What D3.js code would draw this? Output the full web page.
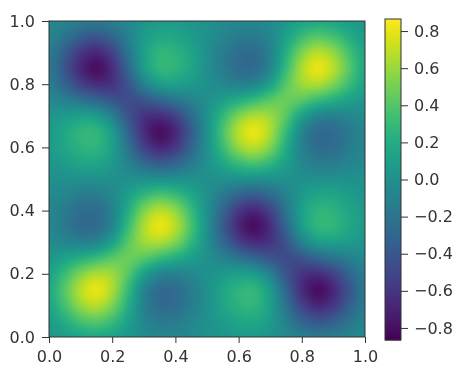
<!DOCTYPE html>
<html>
<head>
<meta charset="utf-8">
<script src="https://cdn.jsdelivr.net/npm/d3@7"></script>
<style>
  html, body { margin: 0; padding: 0; background: #fff; }
  svg { display: block; filter: blur(0.6px); }
  .tick text { font-family: "DejaVu Sans", sans-serif; font-size: 16px; fill: #333; }
  .tick line, .domain { stroke: #333; }
</style>
</head>
<body>
<svg id="chart" width="465" height="383"></svg>
<script>
// Tick labels
const xTicks = [0, 0.2, 0.4, 0.6, 0.8, 1.0];
const yTicks = [0, 0.2, 0.4, 0.6, 0.8, 1.0];
const barTicks = [-0.8, -0.6, -0.4, -0.2, 0, 0.2, 0.4, 0.6, 0.8];
const barRange = [-0.865, 0.865];

// Values, x and y every 0.05, first row is y = 0
const gridPos = [0, .05, .1, .15, .2, .25, .3, .35, .4, .45, .5, .55, .6, .65, .7, .75, .8, .85, .9, .95, 1];
const zGrid = [
  [.04, .09, .15, .17, .13, .05, -.03, -.07, -.07, -.04, 0, .04, .07, .07, .03, -.05, -.13, -.17, -.15, -.09, -.04],
  [.09, .21, .35, .41, .31, .12, -.07, -.16, -.15, -.08, 0, .08, .15, .16, .07, -.12, -.31, -.41, -.35, -.21, -.09],
  [.15, .35, .58, .67, .52, .21, -.10, -.26, -.24, -.14, 0, .14, .24, .26, .10, -.21, -.52, -.67, -.58, -.35, -.15],
  [.17, .41, .67, .80, .64, .30, -.07, -.26, -.25, -.14, 0, .14, .25, .26, .07, -.30, -.64, -.80, -.67, -.41, -.17],
  [.13, .31, .52, .64, .60, .41, .12, -.07, -.10, -.06, 0, .06, .10, .07, -.12, -.41, -.60, -.64, -.52, -.31, -.13],
  [.05, .12, .21, .30, .41, .47, .41, .30, .20, .10, 0, -.10, -.20, -.30, -.41, -.47, -.41, -.30, -.21, -.12, -.05],
  [-.03, -.07, -.10, -.07, .12, .41, .60, .64, .52, .27, 0, -.27, -.52, -.64, -.60, -.41, -.12, .07, .10, .07, .03],
  [-.07, -.16, -.26, -.26, -.07, .30, .64, .80, .67, .36, 0, -.36, -.67, -.80, -.64, -.30, .07, .26, .26, .16, .07],
  [-.07, -.15, -.24, -.25, -.10, .20, .52, .67, .57, .30, 0, -.30, -.57, -.67, -.52, -.20, .10, .25, .24, .15, .07],
  [-.04, -.08, -.14, -.14, -.06, .10, .27, .36, .30, .16, 0, -.16, -.30, -.36, -.27, -.10, .06, .14, .14, .08, .04],
  [0, 0, 0, 0, 0, 0, 0, 0, 0, 0, 0, 0, 0, 0, 0, 0, 0, 0, 0, 0, 0],
  [.04, .08, .14, .14, .06, -.10, -.27, -.36, -.30, -.16, 0, .16, .30, .36, .27, .10, -.06, -.14, -.14, -.08, -.04],
  [.07, .15, .24, .25, .10, -.20, -.52, -.67, -.57, -.30, 0, .30, .57, .67, .52, .20, -.10, -.25, -.24, -.15, -.07],
  [.07, .16, .26, .26, .07, -.30, -.64, -.80, -.67, -.36, 0, .36, .67, .80, .64, .30, -.07, -.26, -.26, -.16, -.07],
  [.03, .07, .10, .07, -.12, -.41, -.60, -.64, -.52, -.27, 0, .27, .52, .64, .60, .41, .12, -.07, -.10, -.07, -.03],
  [-.05, -.12, -.21, -.30, -.41, -.47, -.41, -.30, -.20, -.10, 0, .10, .20, .30, .41, .47, .41, .30, .21, .12, .05],
  [-.13, -.31, -.52, -.64, -.60, -.41, -.12, .07, .10, .06, 0, -.06, -.10, -.07, .12, .41, .60, .64, .52, .31, .13],
  [-.17, -.41, -.67, -.80, -.64, -.30, .07, .26, .25, .14, 0, -.14, -.25, -.26, -.07, .30, .64, .80, .67, .41, .17],
  [-.15, -.35, -.58, -.67, -.52, -.21, .10, .26, .24, .14, 0, -.14, -.24, -.26, -.10, .21, .52, .67, .58, .35, .15],
  [-.09, -.21, -.35, -.41, -.31, -.12, .07, .16, .15, .08, 0, -.08, -.15, -.16, -.07, .12, .31, .41, .35, .21, .09],
  [-.04, -.09, -.15, -.17, -.13, -.05, .03, .07, .07, .04, 0, -.04, -.07, -.07, -.03, .05, .13, .17, .15, .09, .04]
];

const svg = d3.select("#chart");

// Plot box
const plotLeft = 49, plotRight = 365, plotTop = 21, plotBottom = 337;
// Colorbar box
const barLeft = 385, barRight = 401, barTop = 19, barBottom = 340;

const x = d3.scaleLinear().domain([0, 1]).range([plotLeft, plotRight]);
const y = d3.scaleLinear().domain([0, 1]).range([plotBottom, plotTop]);
const barY = d3.scaleLinear().domain(barRange).range([barBottom, barTop]);
const color = d3.scaleSequential(d3.interpolateViridis).domain(barRange);

// Catmull-Rom weights, same idea as imshow with interpolation='bicubic'
function cubic(a, b, c, d, t) {
    return b + 0.5 * t * (c - a + t * (2 * a - 5 * b + 4 * c - d + t * (3 * (b - c) + d - a)));
}

// Value of the grid at a position between its samples
function sampleGrid(px, py) {
    const n = gridPos.length;
    const gx = px * (n - 1), gy = py * (n - 1);
    const i = Math.min(Math.floor(gx), n - 2), j = Math.min(Math.floor(gy), n - 2);
    const clamp = k => Math.max(0, Math.min(n - 1, k));
    const cols = [-1, 0, 1, 2].map(function(dj) {
        const row = zGrid[clamp(j + dj)];
        return cubic(row[clamp(i - 1)], row[clamp(i)], row[clamp(i + 1)], row[clamp(i + 2)], gx - i);
    });
    return cubic(cols[0], cols[1], cols[2], cols[3], gy - j);
}

// Heatmap
const big = document.createElement("canvas");
big.width = plotRight - plotLeft;
big.height = plotBottom - plotTop;
const bctx = big.getContext("2d");
const pixels = bctx.createImageData(big.width, big.height);
for (let py = 0; py < big.height; py++) {
    for (let px = 0; px < big.width; px++) {
        const v = sampleGrid(x.invert(plotLeft + px + 0.5), y.invert(plotTop + py + 0.5));
        const c = d3.rgb(color(v));
        const k = 4 * (py * big.width + px);
        pixels.data[k] = c.r;
        pixels.data[k + 1] = c.g;
        pixels.data[k + 2] = c.b;
        pixels.data[k + 3] = 255;
    }
}
bctx.putImageData(pixels, 0, 0);

svg.append("image")
    .attr("x", x(0))
    .attr("y", y(1))
    .attr("width", x(1) - x(0))
    .attr("height", y(0) - y(1))
    .attr("preserveAspectRatio", "none")
    .attr("href", big.toDataURL());

// Colorbar
const barSteps = d3.range(barTop, barBottom);
svg.append("g")
    .selectAll("rect")
    .data(barSteps)
    .enter().append("rect")
    .attr("x", barLeft)
    .attr("y", d => d)
    .attr("width", barRight - barLeft)
    .attr("height", 1.5)
    .attr("fill", d => color(barY.invert(d + 0.5)));

// Axes
const fmt = d3.format(".1f");
// matplotlib uses a long minus sign on the colorbar
const barFmt = d => fmt(d).replace("-", "\u2212");

const xAxis = svg.append("g")
    .attr("transform", "translate(0," + plotBottom + ")")
    .call(d3.axisBottom(x).tickValues(xTicks).tickFormat(fmt).tickSizeOuter(0).tickSize(6).tickPadding(8));
const yAxis = svg.append("g")
    .attr("transform", "translate(" + plotLeft + ",0)")
    .call(d3.axisLeft(y).tickValues(yTicks).tickFormat(fmt).tickSizeOuter(0).tickSize(7).tickPadding(7));
const barAxis = svg.append("g")
    .attr("transform", "translate(" + barRight + ",0)")
    .call(d3.axisRight(barY).tickValues(barTicks).tickFormat(barFmt).tickSizeOuter(0).tickSize(7).tickPadding(6));

xAxis.select(".domain").remove();
yAxis.select(".domain").remove();
barAxis.select(".domain").remove();

// Frames
svg.append("rect")
    .attr("x", plotLeft).attr("y", plotTop)
    .attr("width", plotRight - plotLeft).attr("height", plotBottom - plotTop)
    .attr("fill", "none").attr("stroke", "#333").attr("stroke-width", 1);
svg.append("rect")
    .attr("x", barLeft).attr("y", barTop)
    .attr("width", barRight - barLeft).attr("height", barBottom - barTop)
    .attr("fill", "none").attr("stroke", "#333").attr("stroke-width", 1);
</script>
</body>
</html>
